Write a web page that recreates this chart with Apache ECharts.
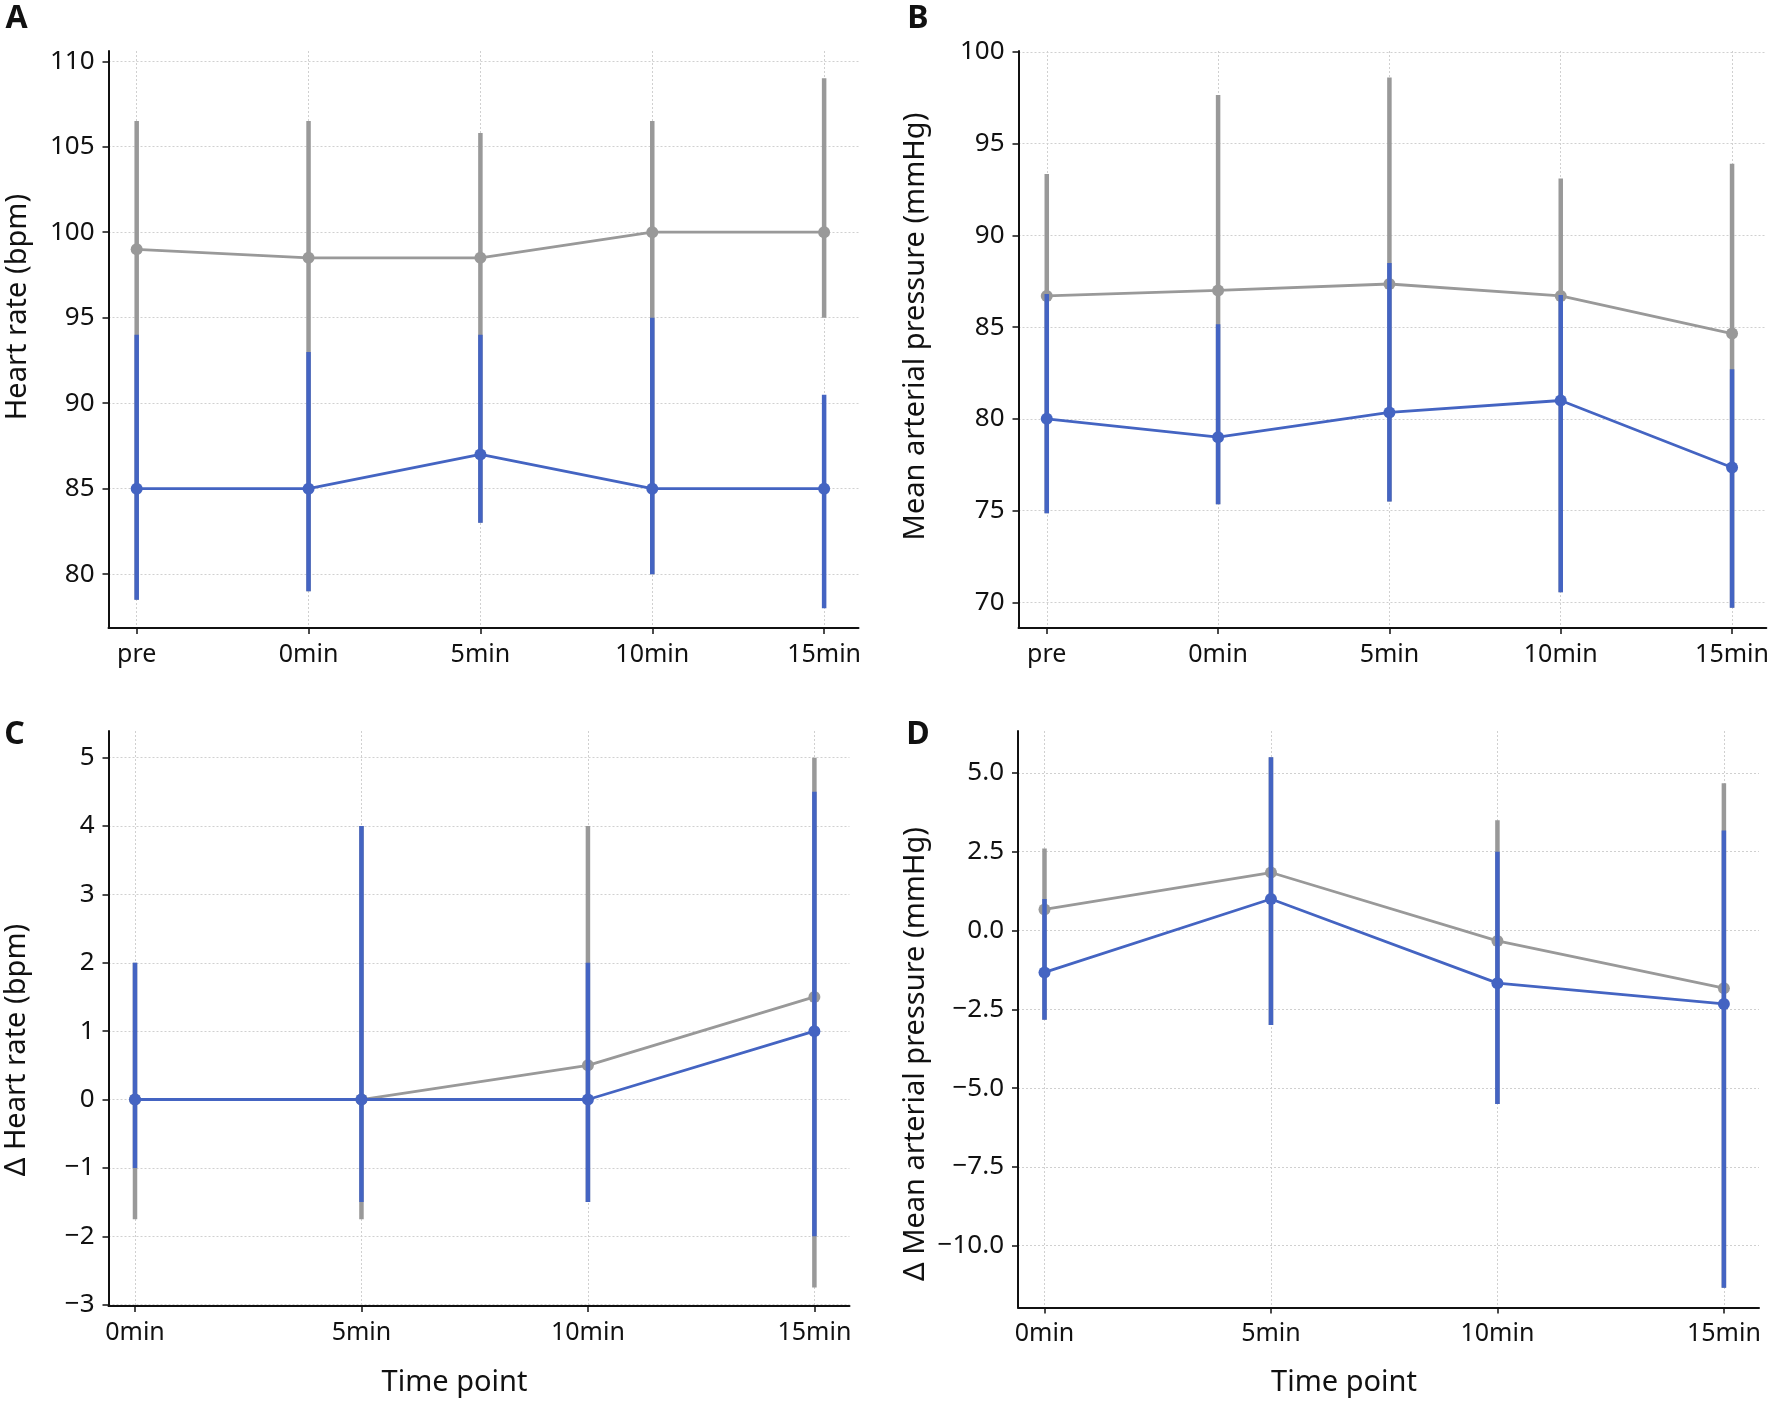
<!DOCTYPE html>
<html>
<head>
<meta charset="utf-8">
<script src="https://cdn.jsdelivr.net/npm/echarts@6/dist/echarts.min.js"></script>
<style>
html,body{margin:0;padding:0;background:#fff;}
#chart{width:1772px;height:1402px;}
</style>
</head>
<body>
<div id="chart"></div>
<script>
// ---- categories ----
const catsAB = ['pre', '0min', '5min', '10min', '15min'];
const catsCD = ['0min', '5min', '10min', '15min'];

// ---- tick labels ----
const ticksA = [80, 85, 90, 95, 100, 105, 110];
const ticksB = [70, 75, 80, 85, 90, 95, 100];
const ticksC = [-3, -2, -1, 0, 1, 2, 3, 4, 5];
const ticksD = [-10, -7.5, -5, -2.5, 0, 2.5, 5];

// ---- Panel A: Heart rate (bpm) ----
const hrGrayMean  = [99.0, 98.5, 98.5, 100.0, 100.0];
const hrGrayUpper = [106.5, 106.5, 105.8, 106.5, 109.0];
const hrGrayLower = [78.5, 79.0, 83.0, 80.0, 95.0];
const hrBlueMean  = [85.0, 85.0, 87.0, 85.0, 85.0];
const hrBlueUpper = [94.0, 93.0, 94.0, 95.0, 90.5];
const hrBlueLower = [78.5, 79.0, 83.0, 80.0, 78.0];

// ---- Panel B: Mean arterial pressure (mmHg) ----
const mapGrayMean  = [86.7, 87.0, 87.35, 86.7, 84.65];
const mapGrayUpper = [93.35, 97.65, 98.6, 93.1, 93.9];
const mapGrayLower = [74.85, 75.35, 75.5, 70.55, 69.7];
const mapBlueMean  = [80.0, 79.0, 80.35, 81.0, 77.35];
const mapBlueUpper = [86.8, 85.15, 88.5, 86.75, 82.7];
const mapBlueLower = [74.85, 75.35, 75.5, 70.55, 69.7];

// ---- Panel C: Δ Heart rate (bpm) ----
const dhrGrayMean  = [0, 0, 0.5, 1.5];
const dhrGrayUpper = [2, 4, 4, 5];
const dhrGrayLower = [-1.75, -1.75, -1.5, -2.75];
const dhrBlueMean  = [0, 0, 0, 1];
const dhrBlueUpper = [2, 4, 2, 4.5];
const dhrBlueLower = [-1, -1.5, -1.5, -2];

// ---- Panel D: Δ Mean arterial pressure (mmHg) ----
const dmapGrayMean  = [0.67, 1.84, -0.33, -1.83];
const dmapGrayUpper = [2.6, 5.5, 3.5, 4.67];
const dmapGrayLower = [-2.83, -3.0, -5.5, -11.33];
const dmapBlueMean  = [-1.33, 1.0, -1.67, -2.33];
const dmapBlueUpper = [1.0, 5.5, 2.5, 3.17];
const dmapBlueLower = [-2.83, -3.0, -5.5, -11.33];

const GRAY = '#999999';
const BLUE = '#4464c2';
const INK = '#111111';
const FONT = "'Noto Sans', 'DejaVu Sans', sans-serif";

const panels = [
  {cats: catsAB, grid: {left: 108.5, top: 51, width: 750, height: 577},
   xr: [-0.164, 4.2], yr: [76.85, 110.6], ticks: ticksA, fmt: v => String(v),
   g: [hrGrayMean, hrGrayLower, hrGrayUpper], b: [hrBlueMean, hrBlueLower, hrBlueUpper]},
  {cats: catsAB, grid: {left: 1018.5, top: 51, width: 751, height: 577},
   xr: [-0.165, 4.2], yr: [68.6, 100.05], ticks: ticksB, fmt: v => String(v),
   g: [mapGrayMean, mapGrayLower, mapGrayUpper], b: [mapBlueMean, mapBlueLower, mapBlueUpper]},
  {cats: catsCD, grid: {left: 108.5, top: 731, width: 741, height: 575},
   xr: [-0.117, 3.155], yr: [-3.02, 5.39], ticks: ticksC,
   fmt: v => (v < 0 ? '\u2212' : '') + Math.abs(v),
   g: [dhrGrayMean, dhrGrayLower, dhrGrayUpper], b: [dhrBlueMean, dhrBlueLower, dhrBlueUpper]},
  {cats: catsCD, grid: {left: 1018, top: 731, width: 741, height: 576.5},
   xr: [-0.117, 3.155], yr: [-11.96, 6.33], ticks: ticksD,
   fmt: v => (v < 0 ? '\u2212' : '') + Math.abs(v).toFixed(1),
   g: [dmapGrayMean, dmapGrayLower, dmapGrayUpper], b: [dmapBlueMean, dmapBlueLower, dmapBlueUpper]}
];

const grids = [], xAxes = [], yAxes = [], series = [];
const splitStyle = {show: true, lineStyle: {color: '#d0d0d0', width: 1, type: [2, 2]}};

panels.forEach((p, i) => {
  grids.push(Object.assign({containLabel: false}, p.grid));
  const idx = p.cats.map((c, j) => j);
  xAxes.push({
    type: 'value', gridIndex: i, min: p.xr[0], max: p.xr[1],
    axisLine: {show: true, onZero: false, lineStyle: {color: INK, width: 2}},
    axisTick: {show: true, length: 6, customValues: idx, lineStyle: {color: INK, width: 1.5}},
    axisLabel: {customValues: idx, formatter: v => p.cats[Math.round(v)] || '',
      fontSize: 25, fontFamily: FONT, color: INK, margin: 14},
    splitLine: splitStyle
  });
  yAxes.push({
    type: 'value', gridIndex: i, min: p.yr[0], max: p.yr[1],
    axisLine: {show: true, onZero: false, lineStyle: {color: INK, width: 2}},
    axisTick: {show: true, length: 6, customValues: p.ticks, lineStyle: {color: INK, width: 1.5}},
    axisLabel: {customValues: p.ticks, formatter: p.fmt,
      fontSize: 26, fontFamily: FONT, color: INK, margin: 14},
    splitLine: splitStyle
  });
  const addGroup = (arr, color, zBase) => {
    series.push({
      type: 'custom', xAxisIndex: i, yAxisIndex: i, z: zBase, silent: true,
      data: p.cats.map((c, j) => [j, arr[1][j], arr[2][j]]),
      encode: {x: 0, y: [1, 2]},
      renderItem: (params, api) => {
        const a = api.coord([api.value(0), api.value(1)]);
        const b = api.coord([api.value(0), api.value(2)]);
        return {type: 'line', shape: {x1: a[0], y1: a[1], x2: b[0], y2: b[1]},
          style: {stroke: color, lineWidth: 4.5, lineCap: 'butt'}};
      }
    });
    series.push({
      type: 'line', xAxisIndex: i, yAxisIndex: i, z: zBase + 1, silent: true,
      data: p.cats.map((c, j) => [j, arr[0][j]]),
      symbol: 'circle', symbolSize: 12, showSymbol: true,
      lineStyle: {color: color, width: 2.8},
      itemStyle: {color: color}
    });
  };
  addGroup(p.g, GRAY, 2);
  addGroup(p.b, BLUE, 4);
});

const txt = (s, x, y, size, opts = {}) => Object.assign({
  type: 'text', x: x, y: y, silent: true,
  style: {text: s, font: (opts.bold ? 'bold ' : '') + size + 'px ' + FONT, fill: INK,
    align: 'center', verticalAlign: 'middle'}
}, opts.rot ? {rotation: Math.PI / 2} : {});

const graphics = [
  txt('A', 16.5, 19, 32, {bold: true}),
  txt('B', 918, 19, 32, {bold: true}),
  txt('C', 14.5, 735, 32, {bold: true}),
  txt('D', 918, 735, 32, {bold: true}),
  txt('Heart rate (bpm)', 17.5, 307, 29, {rot: true}),
  txt('Mean arterial pressure (mmHg)', 915.5, 326.5, 29, {rot: true}),
  txt('\u0394 Heart rate (bpm)', 17, 1050, 29, {rot: true}),
  txt('\u0394 Mean arterial pressure (mmHg)', 916, 1054, 29, {rot: true}),
  txt('Time point', 454.5, 1383, 29),
  txt('Time point', 1344, 1383, 29)
];

const chart = echarts.init(document.getElementById('chart'), null, {renderer: 'canvas'});
chart.setOption({
  backgroundColor: '#ffffff',
  animation: false,
  grid: grids,
  xAxis: xAxes,
  yAxis: yAxes,
  series: series,
  graphic: graphics
});
</script>
</body>
</html>
